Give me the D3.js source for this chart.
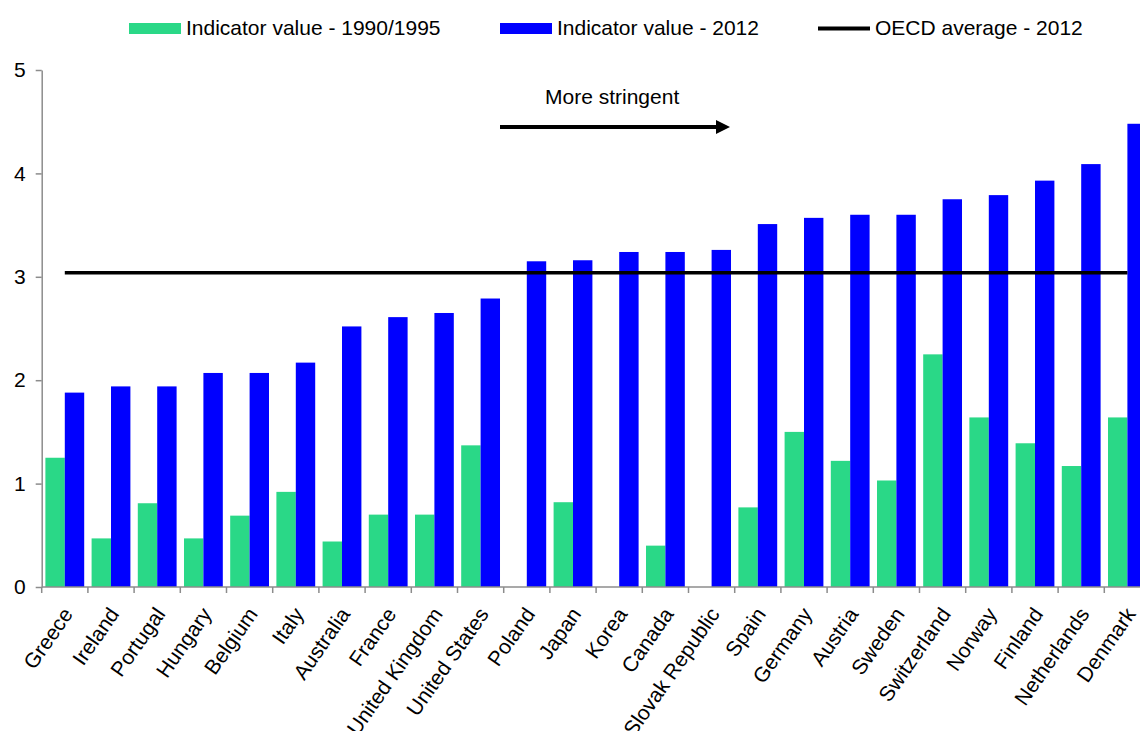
<!DOCTYPE html>
<html>
<head>
<meta charset="utf-8">
<script src="https://cdn.jsdelivr.net/npm/d3@7"></script>
<style>
  body { margin: 0; background: #fff; }
  svg { display: block; font-family: "Liberation Sans", Arial, sans-serif; }
</style>
</head>
<body>
<div id="container"></div>
<script>
// Data
const countries = ["Greece", "Ireland", "Portugal", "Hungary", "Belgium", "Italy", "Australia",
  "France", "United Kingdom", "United States", "Poland", "Japan", "Korea", "Canada",
  "Slovak Republic", "Spain", "Germany", "Austria", "Sweden", "Switzerland", "Norway",
  "Finland", "Netherlands", "Denmark"];
const values1990 = [1.25, 0.47, 0.81, 0.47, 0.69, 0.92, 0.44, 0.70, 0.70, 1.37, null, 0.82,
  null, 0.40, null, 0.77, 1.50, 1.22, 1.03, 2.25, 1.64, 1.39, 1.17, 1.64];
const values2012 = [1.88, 1.94, 1.94, 2.07, 2.07, 2.17, 2.52, 2.61, 2.65, 2.79, 3.15, 3.16,
  3.24, 3.24, 3.26, 3.51, 3.57, 3.60, 3.60, 3.75, 3.79, 3.93, 4.09, 4.48];
const oecdAverage = 3.04;
const yTicks = [0, 1, 2, 3, 4, 5];
const seriesNames = ["Indicator value - 1990/1995", "Indicator value - 2012", "OECD average - 2012"];

//Create dimensions
const width = 1140;
const height = 731;
const plotLeft = 41.7, plotRight = 1150.5, plotTop = 70, plotBottom = 587;

const green = "#2ad887";
const blue = "#0000ff";
const axisGrey = "#8c8c8c";

//Create a svg element
const svg = d3.select("#container")
  .append("svg")
  .attr("width", width)
  .attr("height", height);

//Scales
const x = d3.scaleBand()
  .domain(countries)
  .range([plotLeft, plotRight])
  .paddingInner(0.16)
  .paddingOuter(0.08);

const xSub = d3.scaleBand()
  .domain(["v1990", "v2012"])
  .range([0, x.bandwidth()]);

const y = d3.scaleLinear()
  .domain([0, 5])
  .range([plotBottom, plotTop]);

const rows = countries.map((c, i) => ({ country: c, v1990: values1990[i], v2012: values2012[i] }));

//Bars
const groups = svg.append("g")
  .selectAll("g")
  .data(rows)
  .join("g")
    .attr("transform", d => `translate(${x(d.country)},0)`);

groups.filter(d => d.v1990 != null)
  .append("rect")
    .attr("x", xSub("v1990"))
    .attr("y", d => y(d.v1990))
    .attr("width", xSub.bandwidth())
    .attr("height", d => y(0) - y(d.v1990))
    .attr("fill", green);

groups.append("rect")
  .attr("x", xSub("v2012"))
  .attr("y", d => y(d.v2012))
  .attr("width", xSub.bandwidth())
  .attr("height", d => y(0) - y(d.v2012))
  .attr("fill", blue);

//OECD average line, from first to last category centre
svg.append("line")
  .attr("x1", x(countries[0]) + x.bandwidth() / 2)
  .attr("x2", x(countries[countries.length - 1]) + x.bandwidth() / 2)
  .attr("y1", y(oecdAverage))
  .attr("y2", y(oecdAverage))
  .attr("stroke", "#000")
  .attr("stroke-width", 3.5);

//Y axis
const yAxis = svg.append("g")
  .attr("transform", `translate(${plotLeft},0)`)
  .call(d3.axisLeft(y).tickValues(yTicks).tickFormat(d3.format("d"))
    .tickSize(6).tickSizeOuter(0).tickPadding(10));
yAxis.select(".domain").attr("stroke", axisGrey).attr("stroke-width", 1.5);
yAxis.selectAll(".tick line").attr("stroke", axisGrey).attr("stroke-width", 1.5);
yAxis.selectAll(".tick text")
  .attr("fill", "#000")
  .style("font-size", "21px")
  .style("font-family", "'Liberation Sans', Arial, sans-serif");

//X axis: line and ticks at band boundaries
const step = x.step();
const xAxis = svg.append("g");
xAxis.append("line")
  .attr("x1", plotLeft).attr("x2", plotRight)
  .attr("y1", plotBottom).attr("y2", plotBottom)
  .attr("stroke", axisGrey).attr("stroke-width", 1.5);
xAxis.selectAll(".xtick")
  .data(d3.range(countries.length + 1))
  .join("line")
    .attr("class", "xtick")
    .attr("x1", i => plotLeft + i * step)
    .attr("x2", i => plotLeft + i * step)
    .attr("y1", plotBottom)
    .attr("y2", plotBottom + 6)
    .attr("stroke", axisGrey)
    .attr("stroke-width", 1.5);

xAxis.selectAll(".xlabel")
  .data(countries)
  .join("text")
    .attr("class", "xlabel")
    .attr("transform", d => `translate(${x(d) + x.bandwidth() / 2 + 3},610) rotate(-55)`)
    .attr("text-anchor", "end")
    .attr("dy", "0.35em")
    .style("font-size", "21px")
    .text(d => d);

//Annotation arrow
const defs = svg.append("defs");
defs.append("marker")
  .attr("id", "arrow")
  .attr("viewBox", "0 0 10 10")
  .attr("refX", 0)
  .attr("refY", 5)
  .attr("markerUnits", "userSpaceOnUse")
  .attr("markerWidth", 14)
  .attr("markerHeight", 17)
  .attr("orient", "auto")
  .append("path")
    .attr("d", "M0,0 L10,5 L0,10 Z")
    .attr("fill", "#000");

svg.append("line")
  .attr("x1", 500).attr("x2", 716)
  .attr("y1", 127).attr("y2", 127)
  .attr("stroke", "#000")
  .attr("stroke-width", 4)
  .attr("marker-end", "url(#arrow)");

svg.append("text")
  .attr("x", 545)
  .attr("y", 104)
  .style("font-size", "21px")
  .text("More stringent");

//Legend
const legendItems = [
  { name: seriesNames[0], color: green, type: "rect", x: 129 },
  { name: seriesNames[1], color: blue, type: "rect", x: 500 },
  { name: seriesNames[2], color: "#000", type: "line", x: 818 }
];
const legend = svg.append("g").attr("id", "legend");
legendItems.forEach(item => {
  if (item.type === "rect") {
    legend.append("rect")
      .attr("x", item.x).attr("y", 23)
      .attr("width", 52).attr("height", 11)
      .attr("fill", item.color);
  } else {
    legend.append("line")
      .attr("x1", item.x).attr("x2", item.x + 52)
      .attr("y1", 28.5).attr("y2", 28.5)
      .attr("stroke", item.color)
      .attr("stroke-width", 4);
  }
  legend.append("text")
    .attr("x", item.x + 57)
    .attr("y", 35)
    .style("font-size", "21px")
    .text(item.name);
});
</script>
</body>
</html>
